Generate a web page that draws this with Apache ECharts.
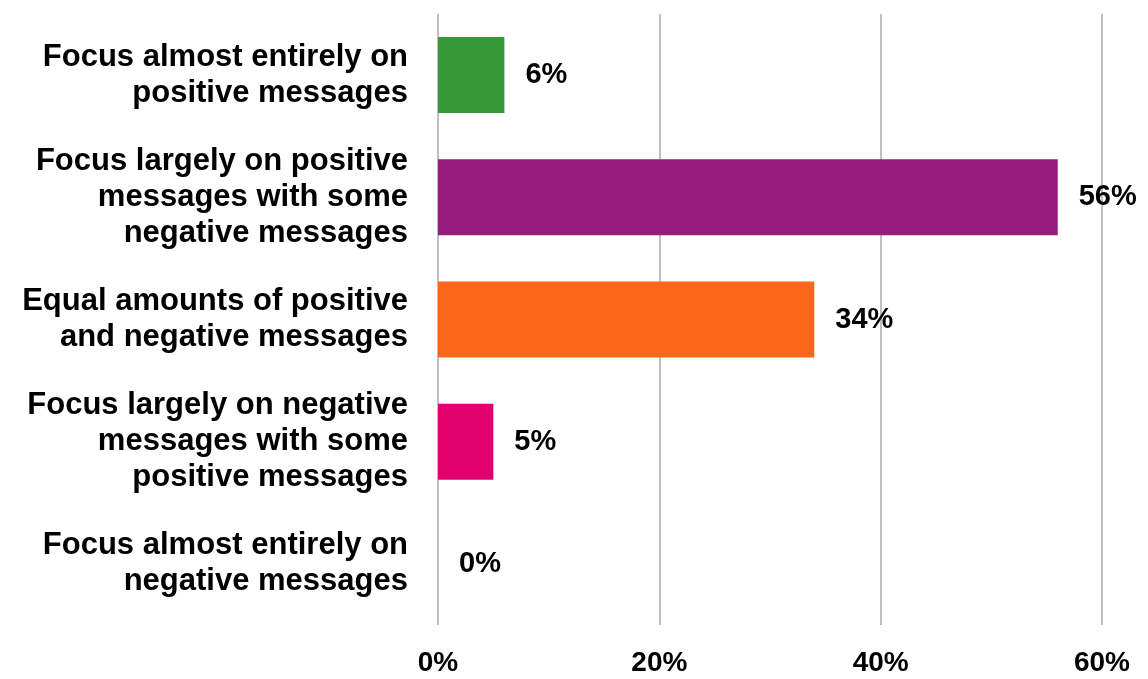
<!DOCTYPE html>
<html>
<head>
<meta charset="utf-8">
<script src="https://cdn.jsdelivr.net/npm/echarts@6/dist/echarts.min.js"></script>
<style>
html,body{margin:0;padding:0;background:#fff;}
#chart{width:1148px;height:679px;}
</style>
</head>
<body>
<div id="chart"></div>
<script>
var categories = [
	'Focus almost entirely on\npositive messages',
	'Focus largely on positive\nmessages with some\nnegative messages',
	'Equal amounts of positive\nand negative messages',
	'Focus largely on negative\nmessages with some\npositive messages',
	'Focus almost entirely on\nnegative messages'
];
var values = [6, 56, 34, 5, 0];
var barColors = ['#389a36', '#951c7c', '#fa661a', '#e2006e', '#888888'];
var tickValues = [0, 20, 40, 60];

var myChart = echarts.init(document.getElementById('chart'));
var fontFam = '"Liberation Sans", Arial, sans-serif';
var option = {
	animation: false,
	grid: {left: 438, right: 46, top: 14, bottom: 54},
	xAxis: {
		type: 'value',
		min: tickValues[0],
		max: tickValues[tickValues.length - 1],
		interval: 20,
		axisLine: {show: false},
		axisTick: {show: false},
		axisLabel: {
			formatter: '{value}%',
			color: '#000',
			fontWeight: 'bold',
			fontSize: 28,
			fontFamily: fontFam,
			margin: 24
		},
		splitLine: {lineStyle: {color: '#c0c0c0', width: 2}}
	},
	yAxis: {
		type: 'category',
		inverse: true,
		data: categories,
		axisLine: {show: false},
		axisTick: {show: false},
		axisLabel: {
			color: '#000',
			fontWeight: 'bold',
			fontSize: 31,
			lineHeight: 36,
			fontFamily: fontFam,
			align: 'right',
			margin: 30
		}
	},
	series: [{
		type: 'bar',
		barWidth: 76,
		data: values.map(function (v, i) {
			return {value: v, itemStyle: {color: barColors[i]}};
		}),
		label: {
			show: true,
			position: 'right',
			distance: 21,
			formatter: '{c}%',
			color: '#000',
			fontWeight: 'bold',
			fontSize: 29,
			fontFamily: fontFam
		}
	}]
};
myChart.setOption(option);
</script>
</body>
</html>
